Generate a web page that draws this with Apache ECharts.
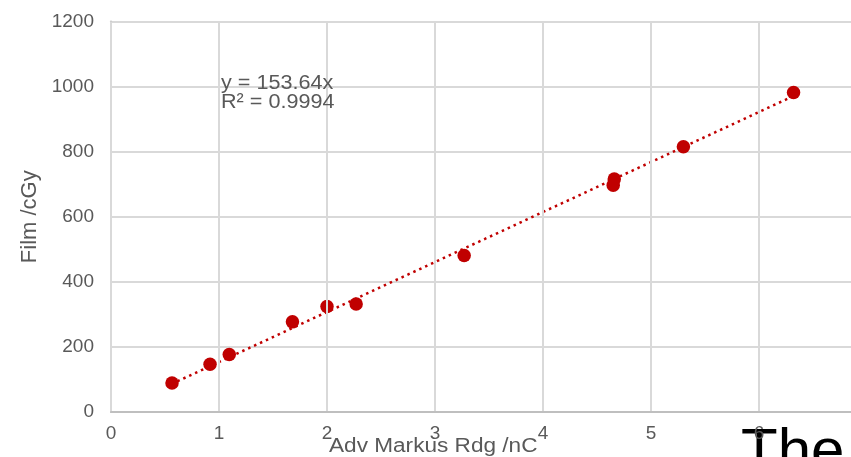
<!DOCTYPE html>
<html>
<head>
<meta charset="utf-8">
<script src="https://cdn.jsdelivr.net/npm/echarts@6/dist/echarts.min.js"></script>
<style>html,body{margin:0;padding:0;background:#fff;}#c{width:851px;height:457px;}</style>
</head>
<body>
<div id="c"></div>
<script>
const xValues = [0.565, 0.917, 1.095, 1.68, 2.0, 2.27, 3.27, 4.65, 4.66, 5.30, 6.32];
const yValues = [89, 147, 177, 277, 324, 332, 481, 697, 716, 815, 982];
const trendX = [0.56, 6.32];
const trendY = [86, 971];
const xTicks = [0, 1, 2, 3, 4, 5, 6, 7];
const yTicks = [0, 200, 400, 600, 800, 1000, 1200];
const eqText = ['y = 153.64x', 'R² = 0.9994'];
const xTitle = 'Adv Markus Rdg /nC';
const yTitle = 'Film /cGy';
const extraText = 'The';

const chart = echarts.init(document.getElementById('c'), null, {renderer: 'canvas'});
const font = 'Liberation Sans, Arial, sans-serif';
chart.setOption({
  animation: false,
  backgroundColor: '#ffffff',
  grid: {left: 111, top: 21.5, width: 756, height: 390.5, containLabel: false, outerBoundsMode: 'none'},
  xAxis: {
    type: 'value', min: xTicks[0], max: xTicks[xTicks.length - 1], interval: 1,
    axisLine: {show: true, lineStyle: {color: '#bfbfbf', width: 2}},
    axisTick: {show: false},
    splitLine: {show: true, lineStyle: {color: '#d9d9d9', width: 2}},
    axisLabel: {color: '#595959', fontSize: 19, fontFamily: font, margin: 12, formatter: v => String(v)},
    z: 5
  },
  yAxis: {
    type: 'value', min: yTicks[0], max: yTicks[yTicks.length - 1], interval: 200,
    name: yTitle, nameLocation: 'middle', nameGap: 70, nameRotate: 90,
    nameTextStyle: {color: '#595959', fontSize: 22, fontFamily: font},
    axisLine: {show: true, lineStyle: {color: '#bfbfbf', width: 2}},
    axisTick: {show: false},
    splitLine: {show: true, lineStyle: {color: '#d9d9d9', width: 2}},
    axisLabel: {color: '#595959', fontSize: 19, fontFamily: font, margin: 17, formatter: v => String(v)}
  },
  series: [
    {
      type: 'line',
      data: trendX.map((x, i) => [x, trendY[i]]),
      symbol: 'none',
      lineStyle: {color: '#c00000', width: 2.5, type: [2.5, 4]},
      z: 2
    },
    {
      type: 'scatter',
      data: xValues.map((x, i) => [x, yValues[i]]),
      symbol: 'circle', symbolSize: 13.5,
      itemStyle: {color: '#c00000', opacity: 1},
      z: 3
    }
  ],
  graphic: [
    {type: 'text', left: 221, top: 73, z: 10, scaleX: 1.08,
     style: {text: eqText[0], fill: '#595959', fontSize: 20, fontFamily: font}},
    {type: 'text', left: 221, top: 92, z: 10, scaleX: 1.08,
     style: {text: eqText[1], fill: '#595959', fontSize: 20, fontFamily: font}},
    {type: 'text', left: 329, top: 436, z: 10, scaleX: 1.13,
     style: {text: xTitle, fill: '#595959', fontSize: 20, fontFamily: font}},
    {type: 'text', left: 741, top: 423, z: -1, zlevel: 0,
     style: {text: extraText, fill: '#000000', fontSize: 60, fontFamily: font}}
  ]
});
</script>
</body>
</html>
